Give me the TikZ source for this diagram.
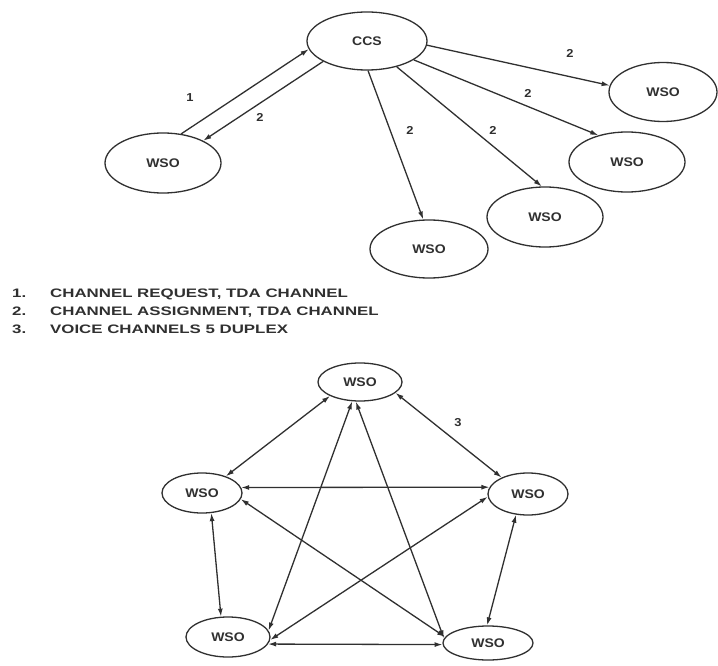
\documentclass[tikz,border=0pt]{standalone}
\usepackage{fontspec}
\setmainfont{Liberation Sans}
\newfontfamily\wsofont[FakeStretch=1.12]{Liberation Sans Bold}
\newfontfamily\legfont[FakeStretch=1.37]{Liberation Sans Bold}
\usetikzlibrary{shapes.geometric,arrows.meta}
\definecolor{ink}{HTML}{303030}
\begin{document}
\begin{tikzpicture}[x=1pt,y=-1pt,
  wso/.style={ellipse, draw=ink, line width=1.3pt, inner sep=0pt, text=ink,
    font=\wsofont\fontsize{12.5}{14}\selectfont},
  arr/.style={draw=ink, line width=1.3pt, -{Latex[length=8pt,width=5pt]}},
  barr/.style={draw=ink, line width=1.3pt, {Latex[length=8pt,width=5pt]}-{Latex[length=8pt,width=5pt]}},
  lbl/.style={text=ink, inner sep=0pt, font=\wsofont\fontsize{11.5}{13}\selectfont},
  leg/.style={text=ink, inner sep=0pt, anchor=base west, font=\legfont\fontsize{12.3}{15}\selectfont}]
\useasboundingbox (0,0) rectangle (718,666);
\fill[white] (0,0) rectangle (718,666);

% ---- top diagram ----
\node[wso, minimum width=120pt, minimum height=58pt] (ccs) at (367,41) {CCS};
\node[wso, minimum width=116pt, minimum height=60pt] (w1) at (163,163) {WSO};
\node[wso, minimum width=108pt, minimum height=59pt] (w2) at (663,92) {WSO};
\node[wso, minimum width=116pt, minimum height=60pt] (w3) at (627,162) {WSO};
\node[wso, minimum width=116pt, minimum height=60pt] (w4) at (545,217) {WSO};
\node[wso, minimum width=118pt, minimum height=58pt] (w5) at (429,249) {WSO};

\draw[arr] (w1.58) -- (ccs.188);
\draw[arr] (ccs.205) -- (w1.29);
\draw[arr] (ccs.272) -- (w5.101);
\draw[arr] (ccs.319) -- (w4.96);
\draw[arr] (ccs.338) -- (w3.137);
\draw[arr] (ccs.356) -- (w2.173);

\node[lbl] (l1) at (190,98) {1};
\node[lbl] (l2a) at (260,117) {2};
\node[lbl] (l2b) at (410,130) {2};
\node[lbl] (l2c) at (493,130) {2};
\node[lbl] (l2d) at (528,93) {2};
\node[lbl] (l2e) at (570,53) {2};

% ---- legend ----
\node[leg] (n1) at (12,297) {1.};
\node[leg] (t1) at (50,297) {CHANNEL REQUEST, TDA CHANNEL};
\node[leg] (n2) at (12,315) {2.};
\node[leg] (t2) at (50,315) {CHANNEL ASSIGNMENT, TDA CHANNEL};
\node[leg] (n3) at (12,333) {3.};
\node[leg] (t3) at (50,333) {VOICE CHANNELS 5 DUPLEX};

% ---- bottom diagram ----
\node[wso, minimum width=84pt, minimum height=38pt] (t) at (360,382) {WSO};
\node[wso, minimum width=80pt, minimum height=40pt] (l) at (202,493) {WSO};
\node[wso, minimum width=80pt, minimum height=42pt] (r) at (528,494) {WSO};
\node[wso, minimum width=84pt, minimum height=40pt] (bl) at (228,637) {WSO};
\node[wso, minimum width=90pt, minimum height=34pt] (br) at (488,643) {WSO};

\draw[barr] (t.205) -- (l.35);
\draw[barr] (t.343) -- (r.148);
\draw[barr] (t.248) -- (bl.9);
\draw[barr] (t.258) -- (br.174);
\draw[barr] (l.8) -- (r.170);
\draw[barr] (l.351) -- (br.172);
\draw[barr] (l.295) -- (bl.109);
\draw[barr] (r.184) -- (bl.356);
\draw[barr] (r.240) -- (br.93);
\draw[barr] (bl.350) -- (br.182);

\node[lbl] (l3) at (458,423) {3};
\end{tikzpicture}
\end{document}
